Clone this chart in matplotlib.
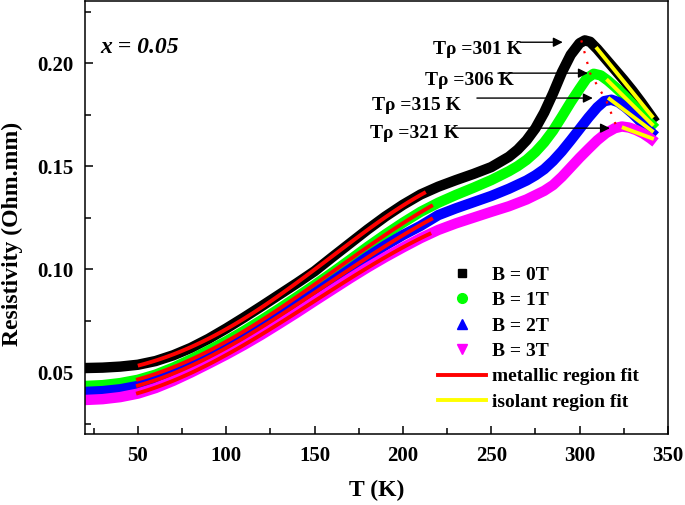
import numpy as np
import matplotlib
matplotlib.use("Agg")
from matplotlib import pyplot as plt
from matplotlib.lines import Line2D

plt.rcParams["font.family"] = "Liberation Serif"
plt.rcParams["font.weight"] = "bold"
plt.rcParams["axes.labelweight"] = "bold"

# resistivity (Ohm.mm) vs temperature (K)
T_0 = [20, 30, 40, 50, 60, 70, 80, 90, 100, 110, 120, 130, 140, 150, 160, 170, 180, 190, 200,
       210, 220, 230, 240, 250, 260, 265, 270, 275, 280, 285, 290, 295, 300, 303, 306, 310,
       315, 320, 325, 330, 335, 340, 343]
rho_0 = [0.0520, 0.0522, 0.0527, 0.0536, 0.0554, 0.0582, 0.0618, 0.0662, 0.0712, 0.0765, 0.0820,
         0.0876, 0.0932, 0.0990, 0.1058, 0.1125, 0.1192, 0.1255, 0.1312, 0.1362, 0.1400, 0.1432,
         0.1462, 0.1495, 0.1545, 0.1580, 0.1625, 0.1683, 0.1760, 0.1853, 0.1955, 0.2040, 0.2096,
         0.2110, 0.2103, 0.2068, 0.2018, 0.1968, 0.1918, 0.1865, 0.1808, 0.1748, 0.1712]

T_1 = [20, 30, 40, 50, 60, 70, 80, 90, 100, 110, 120, 130, 140, 150, 160, 170, 180, 190, 200,
       210, 220, 230, 240, 250, 260, 265, 270, 275, 280, 285, 290, 295, 300, 304, 308, 312,
       316, 320, 325, 330, 335, 340, 343]
rho_1 = [0.0433, 0.0437, 0.0447, 0.0463, 0.0488, 0.0522, 0.0562, 0.0605, 0.0650, 0.0700, 0.0753,
         0.0808, 0.0865, 0.0923, 0.0983, 0.1045, 0.1108, 0.1168, 0.1225, 0.1278, 0.1322, 0.1360,
         0.1395, 0.1432, 0.1475, 0.1500, 0.1530, 0.1568, 0.1615, 0.1672, 0.1740, 0.1810, 0.1875,
         0.1925, 0.1948, 0.1940, 0.1915, 0.1885, 0.1845, 0.1800, 0.1755, 0.1708, 0.1682]

T_2 = [20, 30, 40, 50, 60, 70, 80, 90, 100, 110, 120, 130, 140, 150, 160, 170, 180, 190, 200,
       210, 220, 230, 240, 250, 260, 270, 275, 280, 285, 290, 295, 300, 305, 310, 314, 318,
       322, 326, 330, 335, 340, 343]
rho_2 = [0.0404, 0.0408, 0.0417, 0.0433, 0.0458, 0.0492, 0.0532, 0.0575, 0.0620, 0.0668, 0.0719,
         0.0772, 0.0827, 0.0883, 0.0941, 0.1000, 0.1060, 0.1115, 0.1165, 0.1210, 0.1262, 0.1295,
         0.1325, 0.1355, 0.1390, 0.1430, 0.1455, 0.1485, 0.1525, 0.1572, 0.1625, 0.1680, 0.1735,
         0.1785, 0.1815, 0.1822, 0.1810, 0.1785, 0.1755, 0.1712, 0.1668, 0.1645]

T_3 = [20, 30, 40, 50, 60, 70, 80, 90, 100, 110, 120, 130, 140, 150, 160, 170, 180, 190, 200,
       210, 220, 230, 240, 250, 260, 270, 280, 285, 290, 295, 300, 305, 310, 315, 320, 324,
       328, 332, 336, 340, 343]
rho_3 = [0.0365, 0.0369, 0.0379, 0.0396, 0.0423, 0.0458, 0.0498, 0.0541, 0.0585, 0.0632, 0.0682,
         0.0735, 0.0789, 0.0845, 0.0900, 0.0955, 0.1008, 0.1058, 0.1105, 0.1150, 0.1190, 0.1222,
         0.1250, 0.1278, 0.1305, 0.1338, 0.1380, 0.1408, 0.1448, 0.1494, 0.1540, 0.1583, 0.1625,
         0.1660, 0.1684, 0.1692, 0.1687, 0.1675, 0.1658, 0.1635, 0.1615]

labels = ["B = 0T", "B = 1T", "B = 2T", "B = 3T"]
colors = ["#000000", "#00ff00", "#0000ff", "#ff00ff"]
markers = ["s", "o", "^", "v"]

# fit ranges (K)
metal_start = [51, 50, 50, 50]
metal_end = [212, 216, 216, 215]
isol_start = [310, 316, 317, 325]
isol_end = [341, 341, 341, 341]

# peak temperatures T_rho
T_peak = [301, 306, 315, 321]
rho_peak = [0.211, 0.195, 0.182, 0.169]

series = [(T_0, rho_0), (T_1, rho_1), (T_2, rho_2), (T_3, rho_3)]

fig = plt.figure(figsize=(6.85, 5.05), dpi=100)
ax = fig.add_axes([0.124, 0.1406, 0.851, 0.857])

for (t, r), c in zip(series, colors):
    ax.plot(t, r, color=c, lw=7.5, solid_joinstyle="round", solid_capstyle="butt", zorder=2)

# metallic region fit (polynomial) and isolant region fit (linear)
for i, (t, r) in enumerate(series):
    t = np.array(t, dtype=float)
    r = np.array(r)
    m = (t >= metal_start[i] - 10) & (t <= metal_end[i] + 10)
    p = np.polyfit((t[m] - 130) / 100, r[m], 4)
    tt = np.linspace(metal_start[i], metal_end[i], 100)
    ax.plot(tt, np.polyval(p, (tt - 130) / 100), color="#ff0000", lw=2.8, zorder=6)
    m = (t >= isol_start[i] - 5) & (t <= isol_end[i] + 5)
    p = np.polyfit(t[m], r[m], 1)
    tt = np.linspace(isol_start[i], isol_end[i], 20)
    ax.plot(tt, np.polyval(p, tt), color="#ffff00", lw=2.8, zorder=6)

ax.plot(T_peak, rho_peak, color="#ff0000", lw=1.6, ls=(0, (1, 4)), zorder=7)

# T_rho annotations
text_pos = [(217, 0.2067), (212.4, 0.1917), (182.4, 0.1796), (181.3, 0.1660)]
arrow_from = [(266.2, 0.2101), (253.8, 0.1951), (241.9, 0.1830), (227.7, 0.1684)]
arrow_to = [(290.5, 0.2101), (304.7, 0.1951), (307.5, 0.1830), (317.2, 0.1684)]
for tp, (tx, ty), a0, a1 in zip(T_peak, text_pos, arrow_from, arrow_to):
    ax.text(tx, ty, f"Tρ ={tp} K", fontsize=14, ha="left", va="center", zorder=8)
    ax.annotate("", xy=a1, xytext=a0,
                arrowprops=dict(arrowstyle="-|>", color="black", lw=1, mutation_scale=14,
                                shrinkA=0, shrinkB=0), zorder=8)

ax.text(0.027, 0.894, "x = 0.05", transform=ax.transAxes, fontsize=17, style="italic",
        ha="left", va="center")

ax.set_xlim(20, 350)
ax.set_ylim(0.02, 0.23)
ax.set_xticks(np.arange(50, 351, 50))
ax.set_xticks(np.arange(25, 351, 50), minor=True)
ax.set_yticks([0.05, 0.10, 0.15, 0.20])
ax.set_yticks(np.arange(0.025, 0.23, 0.05), minor=True)
ax.set_yticklabels(["0.05", "0.10", "0.15", "0.20"])
ax.tick_params(which="both", direction="in", width=1.1, labelsize=15, top=False, right=False)
ax.tick_params(which="major", length=6)
ax.tick_params(which="minor", length=4)
ax.tick_params(axis="x", pad=9)
ax.tick_params(axis="y", pad=8.5)
for s in ax.spines.values():
    s.set_linewidth(1.1)

ax.set_xlabel("T (K)", fontsize=17, fontweight="bold")
ax.xaxis.set_label_coords(0.5, -0.105)
ax.set_ylabel("Resistivity (Ohm.mm)", fontsize=17, fontweight="bold")
ax.yaxis.set_label_coords(-0.106, 0.462)

handles = [Line2D([], [], ls="none", marker=mk, color=c, markersize=ms)
           for mk, c, ms in zip(markers, colors, [6, 7, 7.5, 7.5])]
handles += [Line2D([], [], color="#ff0000", lw=2.8), Line2D([], [], color="#ffff00", lw=2.8)]
ax.legend(handles, labels + ["metallic region fit", "isolant region fit"],
          loc="upper left", bbox_to_anchor=(0.6055, 0.3876), frameon=False, fontsize=14,
          handlelength=2.47, handletextpad=0.31, labelspacing=0.4, borderpad=0, borderaxespad=0)

fig.savefig("out.png", dpi=100)
